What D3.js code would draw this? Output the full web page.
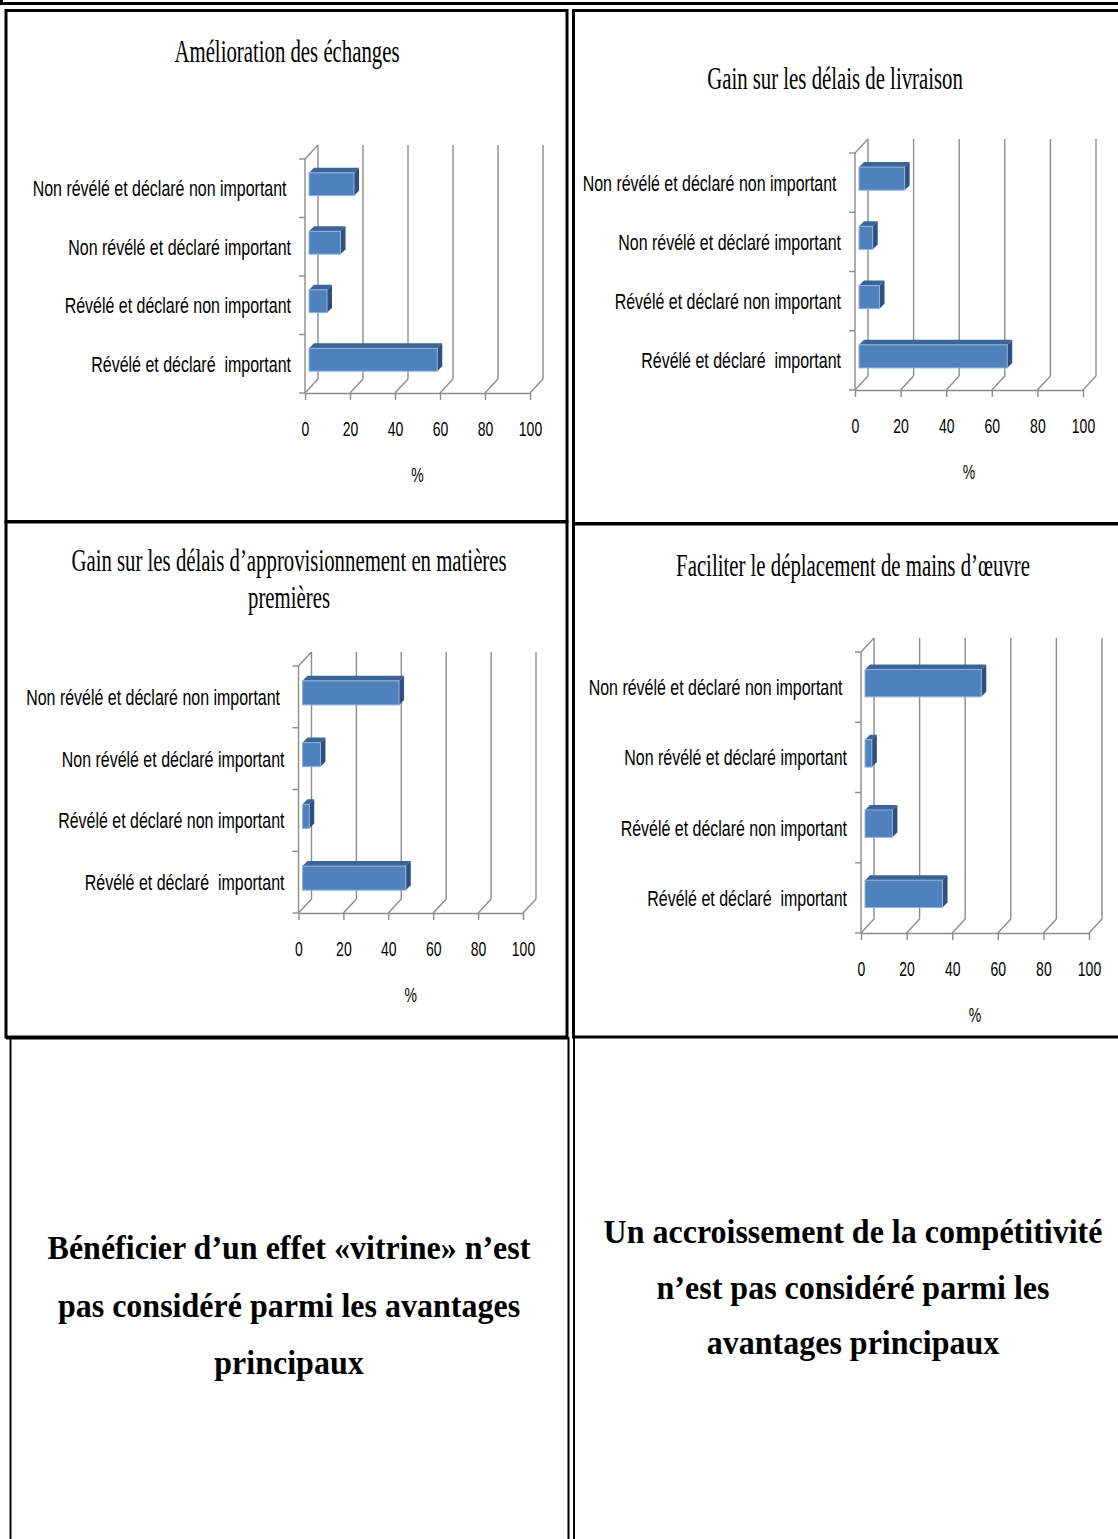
<!DOCTYPE html>
<html><head><meta charset="utf-8">
<script src="https://cdn.jsdelivr.net/npm/d3@7"></script>
<style>
body{margin:0;background:#fff}
svg{display:block}
text{white-space:pre}
</style>
</head><body>
<script>
// ---------- DATA ----------
const categories = [
  "Non révélé et déclaré non important ",
  "Non révélé et déclaré important",
  "Révélé et déclaré non important",
  "Révélé et déclaré  important"
];
const xTicks = [0, 20, 40, 60, 80, 100];
const axisTitle = "%";
const titleEchanges = ["Amélioration des échanges"];
const titleLivraison = ["Gain sur les délais de livraison"];
const titleApprovisionnement = ["Gain sur les délais d’approvisionnement en matières", "premières"];
const titleMainOeuvre = ["Faciliter le déplacement de mains d’œuvre"];
const valuesEchanges = [20, 14, 8, 57];
const valuesLivraison = [20, 6, 9, 65];
const valuesApprovisionnement = [43, 8, 3, 46];
const valuesMainOeuvre = [51, 3, 12, 34];
const noteLeft = ["Bénéficier d’un effet «vitrine» n’est", "pas considéré parmi les avantages", "principaux"];
const noteRight = ["Un accroissement de la compétitivité", "n’est pas considéré parmi les", "avantages principaux"];

// ---------- LAYOUT ----------
const W = 1118, H = 1539;
const DX = 13, DY = 14;        // depth of the 3D box
const BD = 4, BW = 5;          // bar depth offset / bar thickness
const GRID = "#8c8c8c";
const SANS = "'Liberation Sans',Arial,sans-serif";
const SERIF = "'Liberation Serif','Times New Roman',serif";

const panels = [
  {values: valuesEchanges, title: titleEchanges, x0: 305, x1: 530, yt: 159, yb: 393, tx: 287, ty: [62]},
  {values: valuesLivraison, title: titleLivraison, x0: 855, x1: 1083, yt: 153, yb: 390, tx: 835, ty: [89]},
  {values: valuesApprovisionnement, title: titleApprovisionnement, x0: 298.5, x1: 523, yt: 666, yb: 913, tx: 289, ty: [571, 608]},
  {values: valuesMainOeuvre, title: titleMainOeuvre, x0: 861, x1: 1089, yt: 652, yb: 933, tx: 853, ty: [576]}
];

const svg = d3.select("body").append("svg").attr("width", W).attr("height", H);

// ---------- TABLE BORDERS ----------
const B = svg.append("g").attr("fill", "none").attr("stroke", "#000");
B.append("line").attr("x1", 0).attr("x2", W).attr("y1", 3.5).attr("y2", 3.5).attr("stroke-width", 3);
B.append("line").attr("x1", 1.5).attr("x2", 1.5).attr("y1", 0).attr("y2", 5).attr("stroke-width", 3);
B.append("rect").attr("x", 6).attr("y", 10.5).attr("width", 561).attr("height", 511).attr("stroke-width", 3);
B.append("rect").attr("x", 573.5).attr("y", 10.5).attr("width", 600).attr("height", 513).attr("stroke-width", 3);
B.append("rect").attr("x", 6).attr("y", 522).attr("width", 561).attr("height", 515).attr("stroke-width", 3);
B.append("rect").attr("x", 573.5).attr("y", 524).attr("width", 600).attr("height", 513).attr("stroke-width", 3);
B.append("line").attr("x1", 10.5).attr("x2", 10.5).attr("y1", 1037).attr("y2", H).attr("stroke-width", 2);
B.append("line").attr("x1", 568.5).attr("x2", 568.5).attr("y1", 1037).attr("y2", H).attr("stroke-width", 2);
B.append("line").attr("x1", 574).attr("x2", 574).attr("y1", 1037).attr("y2", H).attr("stroke-width", 2);
B.append("line").attr("x1", 6).attr("x2", 568).attr("y1", 1038).attr("y2", 1038).attr("stroke-width", 3);

// ---------- PANELS ----------
function drawPanel(p) {
  const g = svg.append("g");
  const x = d3.scaleLinear().domain([0, 100]).range([p.x0, p.x1]);
  const y = d3.scaleBand().domain(categories).range([p.yt, p.yb]);
  const bh = y.bandwidth() * 0.39;

  // title
  p.title.forEach((t, i) => {
    g.append("text").attr("transform", `translate(${p.tx},${p.ty[i]}) scale(0.65,1)`)
      .attr("text-anchor", "middle").attr("font-family", SERIF).attr("font-size", 32)
      .attr("fill", "#000").text(t);
  });

  const L = g.append("g").attr("stroke", GRID).attr("stroke-width", 1.4).attr("fill", "none");
  // back wall gridlines
  L.selectAll(".gl").data(xTicks).join("line")
    .attr("x1", d => x(d) + DX).attr("x2", d => x(d) + DX)
    .attr("y1", p.yb - DY).attr("y2", p.yt - DY);
  // floor diagonals
  L.selectAll(".fd").data(xTicks).join("line")
    .attr("x1", d => x(d)).attr("x2", d => x(d) + DX)
    .attr("y1", p.yb).attr("y2", p.yb - DY);
  // left wall
  L.append("line").attr("x1", p.x0).attr("x2", p.x0).attr("y1", p.yt).attr("y2", p.yb);
  L.append("line").attr("x1", p.x0).attr("x2", p.x0 + DX).attr("y1", p.yt).attr("y2", p.yt - DY);
  // category ticks on boundaries
  const bounds = categories.map(c => y(c)).concat([p.yb]);
  L.selectAll(".ct").data(bounds).join("line")
    .attr("x1", p.x0 - 6).attr("x2", p.x0).attr("y1", d => d).attr("y2", d => d);

  // bottom axis
  const ax = g.append("g").attr("transform", `translate(0,${p.yb})`)
    .call(d3.axisBottom(x).tickValues(xTicks).tickSize(7).tickSizeOuter(0).tickFormat(d3.format("d")));
  ax.select(".domain").attr("stroke", GRID).attr("stroke-width", 1.4);
  ax.selectAll(".tick line").attr("stroke", GRID).attr("stroke-width", 1.4);
  ax.selectAll(".tick text").attr("y", 43).attr("dy", 0).attr("transform", "scale(0.7,1)")
    .attr("font-family", SANS).attr("font-size", 20).attr("fill", "#000");
  g.append("text").attr("transform", `translate(${(p.x0 + p.x1) / 2},${p.yb + 89}) scale(0.7,1)`)
    .attr("text-anchor", "middle").attr("font-family", SANS).attr("font-size", 20).attr("fill", "#000").text(axisTitle);

  // category labels
  g.selectAll(".cl").data(categories).join("text")
    .attr("transform", d => `translate(${p.x0 - 14},${y(d) + y.bandwidth() / 2 + 8}) scale(0.726,1)`)
    .attr("text-anchor", "end").attr("font-family", SANS).attr("font-size", 22).attr("fill", "#000")
    .text(d => d);

  // bars (3D)
  const data = categories.map((c, i) => ({c, v: p.values[i]}));
  const bars = g.selectAll(".bar").data(data).join("g");
  const geo = d => {
    const xa = x(0) + BD, xb = x(d.v) + BD;
    const yc = y(d.c) + y.bandwidth() / 2 - BD;
    return {xa, xb, y0: yc - bh / 2, y1: yc + bh / 2};
  };
  bars.append("path").attr("fill", "#3d6497").attr("d", d => {
    const q = geo(d);
    return `M${q.xa},${q.y0}L${q.xa + BW},${q.y0 - BW}L${q.xb + BW},${q.y0 - BW}L${q.xb},${q.y0}Z`;
  });
  bars.append("path").attr("fill", "#2d5080").attr("d", d => {
    const q = geo(d);
    return `M${q.xb},${q.y0}L${q.xb + BW},${q.y0 - BW}L${q.xb + BW},${q.y1 - BW}L${q.xb},${q.y1}Z`;
  });
  bars.append("rect").attr("fill", "#4f81bd").attr("stroke", "#8fb2de").attr("stroke-width", 1)
    .attr("x", d => geo(d).xa).attr("y", d => geo(d).y0)
    .attr("width", d => geo(d).xb - geo(d).xa).attr("height", bh);
}
panels.forEach(drawPanel);

// ---------- NOTES ----------
function note(lines, cx, y0, step) {
  lines.forEach((t, i) => {
    svg.append("text").attr("transform", `translate(${cx},${y0 + i * step}) scale(0.97,1)`)
      .attr("text-anchor", "middle").attr("font-family", SERIF).attr("font-weight", "bold")
      .attr("font-size", 33).attr("fill", "#000").text(t);
  });
}
note(noteLeft, 289, 1259, 57.5);
note(noteRight, 853, 1243, 55.5);
</script>
</body></html>
